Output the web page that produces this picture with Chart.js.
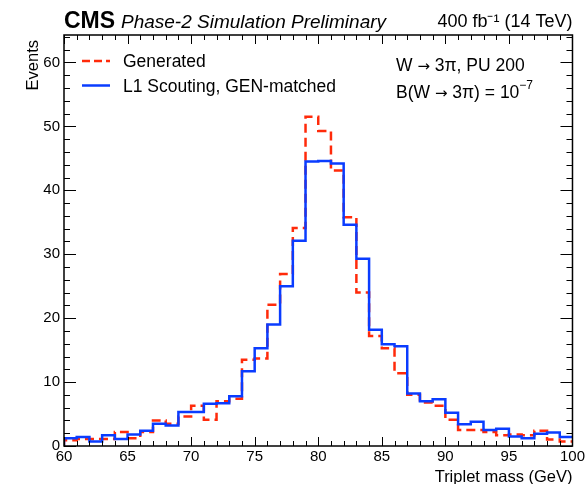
<!DOCTYPE html>
<html>
<head>
<meta charset="utf-8">
<script src="https://cdn.jsdelivr.net/npm/chart.js@4.4.0/dist/chart.umd.min.js"></script>
<style>
  html, body { margin: 0; padding: 0; background: #fff; }
  #wrap { width: 587px; height: 484px; }
</style>
</head>
<body>
<div id="wrap"><canvas id="mass"></canvas></div>
<script>
// bin low edges (GeV), last bin ends at 100
const binLow = [60, 61, 62, 63, 64, 65, 66, 67, 68, 69,
                70, 71, 72, 73, 74, 75, 76, 77, 78, 79,
                80, 81, 82, 83, 84, 85, 86, 87, 88, 89,
                90, 91, 92, 93, 94, 95, 96, 97, 98, 99];
const binEnd = 100;
const generated = [0.9, 1.1, 1.1, 1.1, 2.2, 1.2, 2.2, 4.0, 3.5, 4.6,
                   6.3, 4.1, 7.0, 7.4, 13.5, 13.7, 22.1, 26.9, 34.1, 51.5,
                   49.3, 43.1, 35.8, 24.0, 17.2, 15.3, 11.4, 8.0, 6.8, 6.3,
                   4.1, 2.5, 2.5, 2.2, 1.7, 1.8, 1.7, 2.4, 1.0, 0.7];
const l1Scouting = [1.2, 1.4, 0.7, 1.7, 1.1, 1.8, 2.4, 3.5, 3.2, 5.3,
                    5.3, 6.6, 6.7, 7.8, 11.7, 15.3, 19.0, 25.0, 32.1, 44.5,
                    44.6, 44.2, 34.6, 29.3, 18.2, 15.9, 15.6, 8.2, 7.0, 7.3,
                    5.2, 3.4, 3.8, 2.5, 2.7, 1.5, 1.2, 1.9, 2.1, 1.4];
const xTicks = [60, 65, 70, 75, 80, 85, 90, 95, 100];
const yTicks = [0, 10, 20, 30, 40, 50, 60];

const FONT = '"Liberation Sans", Arial, sans-serif';
const ARROW_FONT = '"DejaVu Sans", sans-serif';

// step outline: each bin value held from its low edge to the next edge
function steps(vals) {
  let pts = [{x: binLow[0], y: 0}];
  binLow.forEach((lo, i) => pts.push({x: lo, y: vals[i]}));
  pts.push({x: binEnd, y: vals[vals.length - 1]});
  return pts;
}

// draw text pieces one after another: [text, font, dy]
function runs(c, x, y, parts) {
  parts.forEach(p => {
    c.font = p[1];
    c.fillText(p[0], x, y + (p[2] || 0));
    x += c.measureText(p[0]).width;
  });
}

const rootStyle = {
  id: 'rootStyle',
  afterDraw(chart) {
    const c = chart.ctx, a = chart.chartArea;
    const xs = chart.scales.x, ys = chart.scales.y;
    c.save();
    c.strokeStyle = '#000';
    c.lineWidth = 1.5;
    c.strokeRect(a.left, a.top, a.right - a.left, a.bottom - a.top);
    c.lineWidth = 1;
    c.beginPath();
    for (let v = 60; v <= 100; v++) {
      let px = Math.round(xs.getPixelForValue(v)) + 0.5;
      let len = v % 5 == 0 ? 9 : 5;
      c.moveTo(px, a.bottom); c.lineTo(px, a.bottom - len);
      c.moveTo(px, a.top); c.lineTo(px, a.top + len);
    }
    for (let v = 0; v <= 64; v += 2) {
      let py = Math.round(ys.getPixelForValue(v)) + 0.5;
      let len = v % 10 == 0 ? 12 : 6;
      c.moveTo(a.left, py); c.lineTo(a.left + len, py);
      c.moveTo(a.right, py); c.lineTo(a.right - len, py);
    }
    c.stroke();

    c.fillStyle = '#000';
    c.textBaseline = 'alphabetic';
    // header
    c.font = 'bold 23px ' + FONT;
    c.textAlign = 'left';
    c.fillText('CMS', a.left, 28);
    c.font = 'italic 19px ' + FONT;
    c.fillText('Phase-2 Simulation Preliminary', 121, 28);
    c.textAlign = 'right';
    c.font = '18px ' + FONT;
    c.fillText('400 fb\u207B\u00B9 (14 TeV)', a.right, 27);

    // axis titles
    c.font = '16.5px ' + FONT;
    c.fillText('Triplet mass (GeV)', a.right, 482);
    c.save();
    c.translate(38, 40);
    c.rotate(-Math.PI / 2);
    c.textAlign = 'right';
    c.fillText('Events', 0, 0);
    c.restore();

    // legend
    c.textAlign = 'left';
    c.font = '17.5px ' + FONT;
    chart.data.datasets.forEach((ds, i) => {
      let y = 61 + i * 24.5;
      c.strokeStyle = ds.borderColor;
      c.lineWidth = ds.borderWidth;
      c.setLineDash(ds.legendDash || []);
      c.beginPath(); c.moveTo(82, y); c.lineTo(110, y); c.stroke();
      c.setLineDash([]);
      c.fillText(ds.label, 123, y + 6);
    });

    // process text
    const f = '17.5px ' + FONT, fa = '15px ' + ARROW_FONT;
    runs(c, 396, 71, [['W ', f], ['\u2192', fa], [' 3\u03C0, PU 200', f]]);
    runs(c, 396, 98, [['B(W ', f], ['\u2192', fa], [' 3\u03C0) = 10', f], ['\u22127', '12px ' + FONT, -9]]);
    c.restore();
  }
};

new Chart(document.getElementById('mass'), {
  type: 'line',
  data: {
    datasets: [{
      label: 'Generated',
      data: steps(generated),
      borderColor: '#ff2a0a',
      borderWidth: 2.5,
      borderDash: [9, 5],
      legendDash: [8, 4],
      stepped: 'before',
      pointRadius: 0,
      fill: false,
      order: 1
    }, {
      label: 'L1 Scouting, GEN-matched',
      data: steps(l1Scouting),
      borderColor: '#0a3cff',
      borderWidth: 2.5,
      stepped: 'before',
      pointRadius: 0,
      fill: false,
      order: 0
    }]
  },
  options: {
    responsive: true,
    maintainAspectRatio: false,
    animation: false,
    layout: { padding: { top: 35, right: 13, left: 0, bottom: 0 } },
    plugins: { legend: { display: false }, tooltip: { enabled: false } },
    scales: {
      x: {
        type: 'linear', min: 60, max: 100,
        afterBuildTicks: s => { s.ticks = xTicks.map(v => ({value: v})); },
        afterFit: s => { s.height = 38; },
        ticks: { font: { family: FONT, size: 15 }, color: '#000', padding: 2, maxRotation: 0, autoSkip: false },
        grid: { display: false, drawTicks: false },
        border: { display: false }
      },
      y: {
        min: 0, max: 64.3,
        afterBuildTicks: s => { s.ticks = yTicks.map(v => ({value: v})); },
        afterFit: s => { s.width = 64; },
        ticks: { font: { family: FONT, size: 15 }, color: '#000', padding: 4 },
        grid: { display: false, drawTicks: false },
        border: { display: false }
      }
    }
  },
  plugins: [rootStyle]
});
</script>
</body>
</html>
